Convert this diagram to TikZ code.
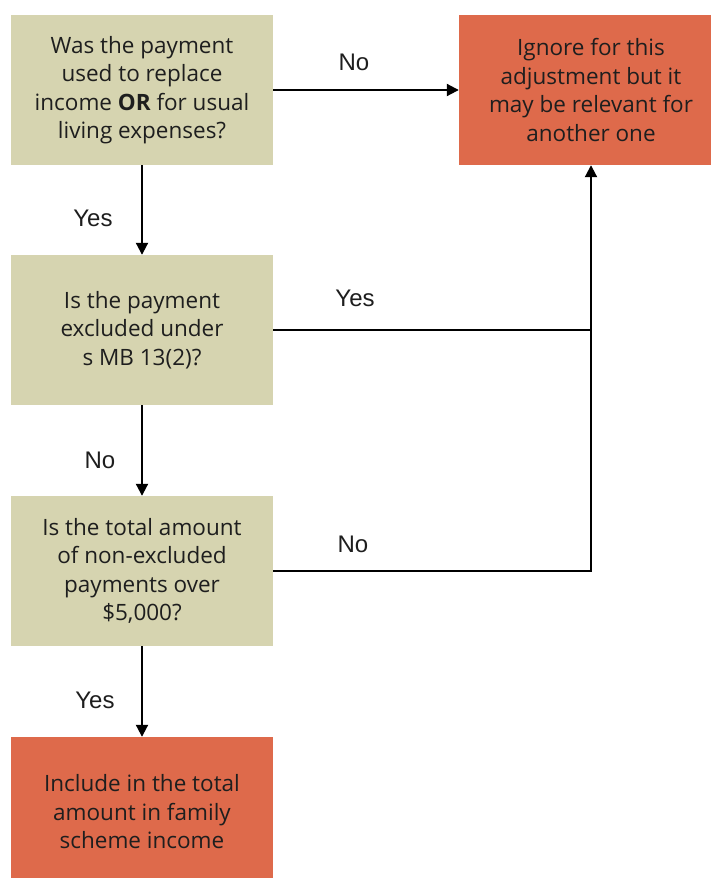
\documentclass[tikz,border=0pt]{standalone}
\usepackage{fontspec}
\setmainfont{Open Sans}
\newfontfamily\labelfont{Liberation Sans}
\usetikzlibrary{arrows.meta}
\definecolor{beige}{RGB}{214,212,176}
\definecolor{redbox}{RGB}{222,106,75}
\definecolor{txt}{RGB}{30,30,30}
\tikzset{
  qbox/.style={fill=beige, draw=none, minimum width=262pt, minimum height=150pt, align=center, text=txt, font=\fontsize{22.5}{28.5}\selectfont, inner sep=0pt},
  rbox/.style={fill=redbox, draw=none, minimum height=150pt, align=center, text=txt, font=\fontsize{22.5}{28.5}\selectfont, inner sep=0pt},
  lbl/.style={font=\labelfont\fontsize{24}{28}\selectfont, text=txt, inner sep=0pt},
  conn/.style={line width=2pt, black},
  arr/.style={conn, -{Triangle[length=12pt,width=12pt]}},
}
\begin{document}
\begin{tikzpicture}[x=1pt,y=-1pt]
\useasboundingbox (0,0) rectangle (711,878);
\fill[white] (0,0) rectangle (711,878);
\node[qbox] (b1) at (142,90) {Was the payment\\used to replace\\income \textbf{OR} for usual\\living expenses?};
\node[rbox, minimum width=264pt] (r1) at (591,90) {Ignore for this\\adjustment but it\\may be relevant for\\another one};
\node[qbox] (b2) at (142,330) {Is the payment\\excluded under\\s MB 13(2)?};
\node[qbox] (b3) at (142,571) {Is the total amount\\of non-excluded\\payments over\\\$5,000?};
\node[rbox, minimum width=262pt] (b4) at (142,812) {Include in the total\\amount in family\\scheme income};
\coordinate (j) at (591,330);
\draw[arr] (b1.east) -- (r1.west);
\draw[arr] (b1.south) -- (b2.north);
\draw[arr] (b2.south) -- (b3.north);
\draw[arr] (b3.south) -- (b4.north);
\draw[arr] (b2.east) -- (j) -- (r1.south);
\draw[conn] (b3.east) -- (b3.east -| j) -- (j);
\node[lbl] (l1) at (354,62) {No};
\node[lbl] (l2) at (93,218) {Yes};
\node[lbl] (l3) at (355,298) {Yes};
\node[lbl] (l4) at (100,460) {No};
\node[lbl] (l5) at (353,544) {No};
\node[lbl] (l6) at (95,700) {Yes};
\end{tikzpicture}
\end{document}
